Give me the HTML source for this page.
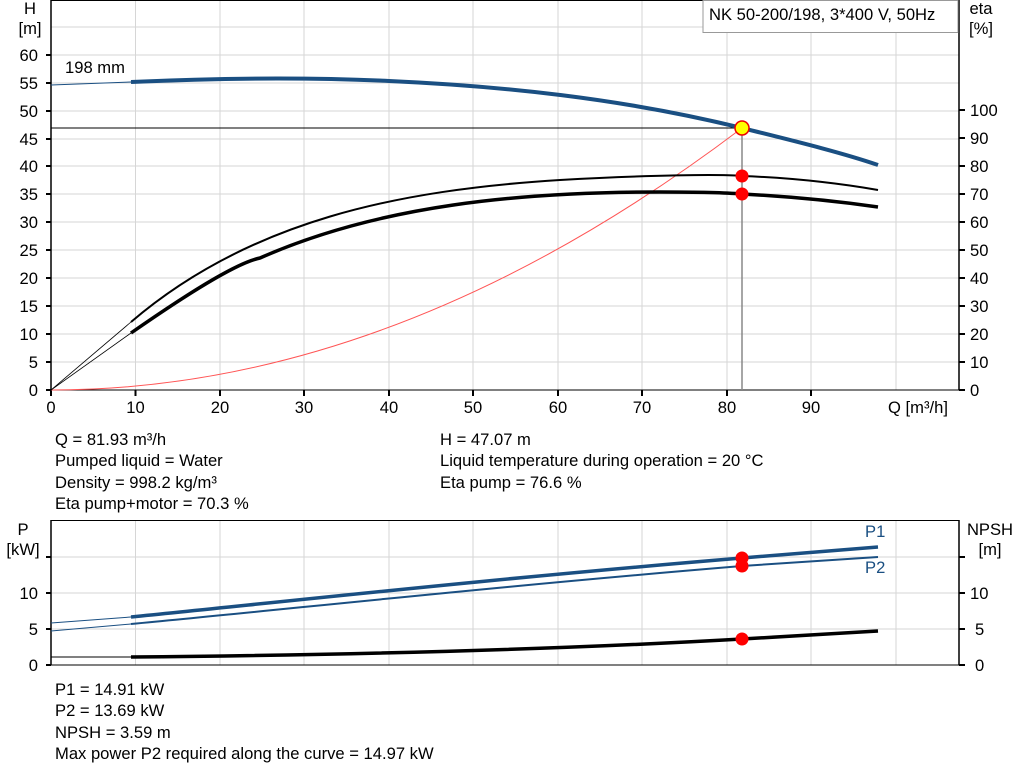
<!DOCTYPE html>
<html><head><meta charset="utf-8"><style>
body{margin:0;background:#fff}
svg{display:block;font-family:"Liberation Sans",sans-serif}
</style></head><body>
<svg width="1024" height="781" viewBox="0 0 1024 781" xmlns="http://www.w3.org/2000/svg">
<rect width="1024" height="781" fill="#fff"/>
<g stroke="#d6d6d6" stroke-width="1">
<line x1="135.5" y1="0" x2="135.5" y2="390"/><line x1="220" y1="0" x2="220" y2="390"/><line x1="304" y1="0" x2="304" y2="390"/><line x1="389" y1="0" x2="389" y2="390"/><line x1="473" y1="0" x2="473" y2="390"/><line x1="558" y1="0" x2="558" y2="390"/><line x1="642" y1="0" x2="642" y2="390"/><line x1="727" y1="0" x2="727" y2="390"/><line x1="811" y1="0" x2="811" y2="390"/><line x1="896" y1="0" x2="896" y2="390"/>
<line x1="51" y1="362" x2="959" y2="362"/><line x1="51" y1="334" x2="959" y2="334"/><line x1="51" y1="306" x2="959" y2="306"/><line x1="51" y1="278" x2="959" y2="278"/><line x1="51" y1="250" x2="959" y2="250"/><line x1="51" y1="222" x2="959" y2="222"/><line x1="51" y1="194" x2="959" y2="194"/><line x1="51" y1="166" x2="959" y2="166"/><line x1="51" y1="139" x2="959" y2="139"/><line x1="51" y1="111" x2="959" y2="111"/><line x1="51" y1="83" x2="959" y2="83"/><line x1="51" y1="55" x2="959" y2="55"/><line x1="51" y1="27" x2="959" y2="27"/>
</g>
<rect x="51" y="0.5" width="908" height="389.5" fill="none" stroke="#000" stroke-width="1"/>
<line x1="51" y1="0" x2="51" y2="390" stroke="#000" stroke-width="1.5"/>
<line x1="959" y1="0" x2="959" y2="390" stroke="#000" stroke-width="1.5"/>
<g stroke="#000" stroke-width="2">
<line x1="46" y1="390" x2="51" y2="390"/><line x1="46" y1="362" x2="51" y2="362"/><line x1="46" y1="334" x2="51" y2="334"/><line x1="46" y1="306" x2="51" y2="306"/><line x1="46" y1="278" x2="51" y2="278"/><line x1="46" y1="250" x2="51" y2="250"/><line x1="46" y1="222" x2="51" y2="222"/><line x1="46" y1="194" x2="51" y2="194"/><line x1="46" y1="166" x2="51" y2="166"/><line x1="46" y1="139" x2="51" y2="139"/><line x1="46" y1="111" x2="51" y2="111"/><line x1="46" y1="83" x2="51" y2="83"/><line x1="46" y1="55" x2="51" y2="55"/>
<line x1="959" y1="390" x2="965" y2="390"/><line x1="959" y1="362" x2="965" y2="362"/><line x1="959" y1="334" x2="965" y2="334"/><line x1="959" y1="306" x2="965" y2="306"/><line x1="959" y1="278" x2="965" y2="278"/><line x1="959" y1="250" x2="965" y2="250"/><line x1="959" y1="222" x2="965" y2="222"/><line x1="959" y1="194" x2="965" y2="194"/><line x1="959" y1="166" x2="965" y2="166"/><line x1="959" y1="138" x2="965" y2="138"/><line x1="959" y1="110" x2="965" y2="110"/>
<line x1="51" y1="390" x2="51" y2="396"/><line x1="135.5" y1="390" x2="135.5" y2="396"/><line x1="220" y1="390" x2="220" y2="396"/><line x1="304" y1="390" x2="304" y2="396"/><line x1="389" y1="390" x2="389" y2="396"/><line x1="473" y1="390" x2="473" y2="396"/><line x1="558" y1="390" x2="558" y2="396"/><line x1="642" y1="390" x2="642" y2="396"/><line x1="727" y1="390" x2="727" y2="396"/><line x1="811" y1="390" x2="811" y2="396"/>
</g>
<g font-size="16.6" fill="#000" text-anchor="end">
<text x="38" y="396">0</text><text x="38" y="368">5</text><text x="38" y="340">10</text><text x="38" y="312">15</text><text x="38" y="284">20</text><text x="38" y="256">25</text><text x="38" y="228">30</text><text x="38" y="200">35</text><text x="38" y="172">40</text><text x="38" y="145">45</text><text x="38" y="117">50</text><text x="38" y="89">55</text><text x="38" y="61">60</text>
</g>
<g font-size="16.6" fill="#000" text-anchor="start">
<text x="970" y="396">0</text><text x="970" y="368">10</text><text x="970" y="340">20</text><text x="970" y="312">30</text><text x="970" y="284">40</text><text x="970" y="256">50</text><text x="970" y="228">60</text><text x="970" y="200">70</text><text x="970" y="172">80</text><text x="970" y="144">90</text><text x="970" y="116">100</text>
</g>
<g font-size="16.6" fill="#000" text-anchor="middle">
<text x="51" y="413">0</text><text x="135.5" y="413">10</text><text x="220" y="413">20</text><text x="304" y="413">30</text><text x="389" y="413">40</text><text x="473" y="413">50</text><text x="558" y="413">60</text><text x="642" y="413">70</text><text x="727" y="413">80</text><text x="811" y="413">90</text>
<text x="30" y="14">H</text><text x="30" y="34">[m]</text>
<text x="981" y="14">eta</text><text x="981" y="34">[%]</text>
</g>
<text x="888" y="413" font-size="16.6">Q [m³/h]</text>
<text x="65" y="73" font-size="16.6">198 mm</text>
<rect x="703" y="0.5" width="255" height="32" fill="#fff" stroke="#999"/>
<text x="709" y="20" font-size="16.6">NK 50-200/198, 3*400 V, 50Hz</text>
<line x1="51" y1="128" x2="742" y2="128" stroke="#000" stroke-width="1"/>
<line x1="742" y1="128" x2="742" y2="390" stroke="#888" stroke-width="1.5"/>
<path d="M51,390 Q396,390 742,128" fill="none" stroke="#f55" stroke-width="1"/>
<path d="M51,85 L131,82" stroke="#1a4f82" stroke-width="1" fill="none"/>
<path d="M131,82 C220,78 304,77 389,81 C500,86 620,98 742,128 C790,140 840,152 878,165" stroke="#1a4f82" stroke-width="4" fill="none"/>
<path d="M51,390 L131,322" stroke="#000" stroke-width="0.8" fill="none"/>
<path d="M51,390 L131,333" stroke="#000" stroke-width="0.8" fill="none"/>
<path d="M131,322 C250,220 400,190 560,180 C650,175 720,174 742,176 C800,178 850,185 878,190" stroke="#000" stroke-width="2" fill="none"/>
<path d="M131,333 C200,285 240,262 260,258 C380,205 520,192 660,192 C700,192 730,193 742,194 C800,197 850,203 878,207" stroke="#000" stroke-width="3.5" fill="none"/>
<circle cx="742" cy="176" r="6.5" fill="#f00"/>
<circle cx="742" cy="194" r="6.5" fill="#f00"/>
<circle cx="742" cy="128" r="7" fill="#ff0" stroke="#e00" stroke-width="1.5"/>
<g font-size="16.6" fill="#000">
<text x="55" y="445">Q = 81.93 m³/h</text><text x="55" y="466">Pumped liquid = Water</text><text x="55" y="488">Density = 998.2 kg/m³</text><text x="55" y="509">Eta pump+motor = 70.3 %</text>
<text x="440" y="445">H = 47.07 m</text><text x="440" y="466">Liquid temperature during operation = 20 °C</text><text x="440" y="488">Eta pump = 76.6 %</text>
<text x="55" y="695">P1 = 14.91 kW</text><text x="55" y="716">P2 = 13.69 kW</text><text x="55" y="738">NPSH = 3.59 m</text><text x="55" y="759">Max power P2 required along the curve = 14.97 kW</text>
</g>
<g stroke="#d6d6d6" stroke-width="1">
<line x1="135.5" y1="520" x2="135.5" y2="665"/><line x1="220" y1="520" x2="220" y2="665"/><line x1="304" y1="520" x2="304" y2="665"/><line x1="389" y1="520" x2="389" y2="665"/><line x1="473" y1="520" x2="473" y2="665"/><line x1="558" y1="520" x2="558" y2="665"/><line x1="642" y1="520" x2="642" y2="665"/><line x1="727" y1="520" x2="727" y2="665"/><line x1="811" y1="520" x2="811" y2="665"/><line x1="896" y1="520" x2="896" y2="665"/>
<line x1="51" y1="629" x2="959" y2="629"/><line x1="51" y1="593" x2="959" y2="593"/><line x1="51" y1="557" x2="959" y2="557"/>
</g>
<rect x="51" y="520.5" width="908" height="144.5" fill="none" stroke="#000" stroke-width="1"/>
<line x1="51" y1="520" x2="51" y2="665" stroke="#000" stroke-width="1.5"/>
<line x1="959" y1="520" x2="959" y2="665" stroke="#000" stroke-width="1.5"/>
<g stroke="#000" stroke-width="2">
<line x1="46" y1="665" x2="51" y2="665"/><line x1="46" y1="629" x2="51" y2="629"/><line x1="46" y1="593" x2="51" y2="593"/><line x1="46" y1="557" x2="51" y2="557"/>
<line x1="959" y1="665" x2="965" y2="665"/><line x1="959" y1="629" x2="965" y2="629"/><line x1="959" y1="593" x2="965" y2="593"/><line x1="959" y1="557" x2="965" y2="557"/>
</g>
<g font-size="16.6" text-anchor="end"><text x="38" y="671">0</text><text x="38" y="635">5</text><text x="38" y="599">10</text></g>
<g font-size="16.6"><text x="975" y="671">0</text><text x="975" y="635">5</text><text x="970" y="599">10</text></g>
<g font-size="16.6" text-anchor="middle"><text x="23" y="535">P</text><text x="23" y="555">[kW]</text><text x="990" y="535">NPSH</text><text x="990" y="555">[m]</text></g>
<text x="865" y="537" font-size="16.6" fill="#1a4f82">P1</text>
<text x="865" y="573" font-size="16.6" fill="#1a4f82">P2</text>
<path d="M51,623 L131,617" stroke="#1a4f82" stroke-width="1" fill="none"/>
<path d="M131,617 C300,600 500,578 742,558 C800,553 850,549 878,547" stroke="#1a4f82" stroke-width="3.5" fill="none"/>
<path d="M51,631 L131,624" stroke="#1a4f82" stroke-width="1" fill="none"/>
<path d="M131,624 C300,608 500,586 742,566 C800,562 850,559 878,557" stroke="#1a4f82" stroke-width="2" fill="none"/>
<path d="M51,657 L131,657" stroke="#000" stroke-width="1" fill="none"/>
<path d="M131,657 C350,655 550,650 742,639 C800,636 850,633 878,631" stroke="#000" stroke-width="3.5" fill="none"/>
<circle cx="742" cy="558" r="6.5" fill="#f00"/>
<circle cx="742" cy="566" r="6.5" fill="#f00"/>
<circle cx="742" cy="639" r="6.5" fill="#f00"/>
</svg>
</body></html>
